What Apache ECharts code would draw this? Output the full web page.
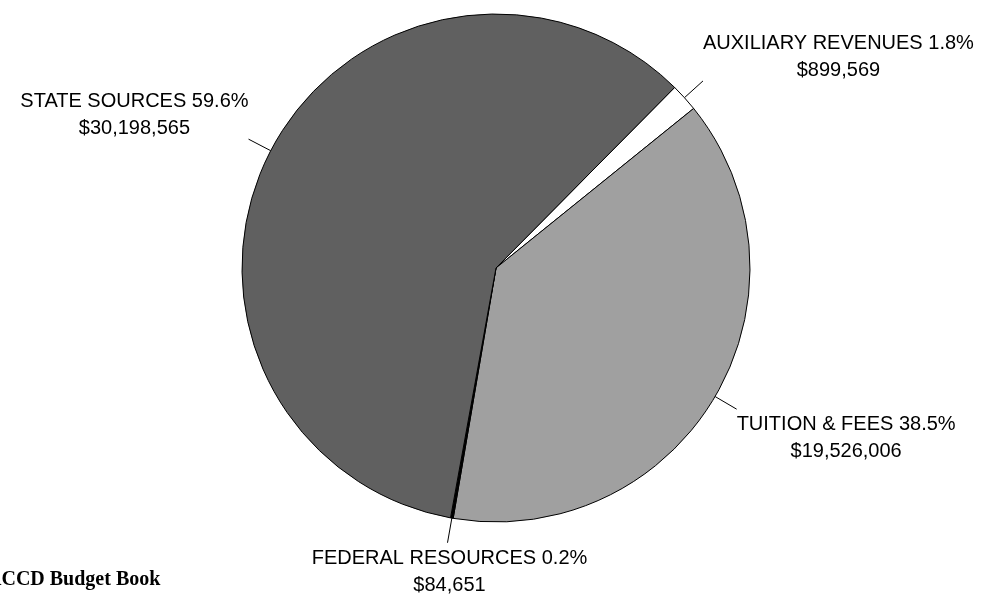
<!DOCTYPE html>
<html>
<head>
<meta charset="utf-8">
<script src="https://cdn.jsdelivr.net/npm/echarts@6/dist/echarts.min.js"></script>
<style>
html,body{margin:0;padding:0;background:#fff;}
#chart{width:985px;height:594px;}
</style>
</head>
<body>
<div id="chart"></div>
<script>
var categories = ['AUXILIARY REVENUES', 'TUITION & FEES', 'FEDERAL RESOURCES', 'STATE SOURCES'];
var values = [899569, 19526006, 84651, 30198565];
var colors = ['#ffffff', '#a0a0a0', '#000000', '#606060'];
var footerText = 'ACCD Budget Book';

var total = values.reduce(function (s, v) { return s + v; }, 0);
function money(v) { return '$' + String(v).replace(/\B(?=(\d{3})+(?!\d))/g, ','); }

var chart = echarts.init(document.getElementById('chart'), null, { renderer: 'canvas' });
chart.setOption({
  animation: false,
  backgroundColor: '#ffffff',
  graphic: [{
    type: 'text',
    left: -13,
    top: 570,
    style: {
      text: footerText,
      font: 'bold 20px "Liberation Serif", "Times New Roman", serif',
      fill: '#000'
    }
  }],
  series: [{
    type: 'pie',
    center: [496, 268],
    radius: [0, 254],
    startAngle: 45.3,
    clockwise: true,
    avoidLabelOverlap: false,
    silent: true,
    emphasis: { disabled: true },
    itemStyle: { borderColor: '#000', borderWidth: 1 },
    label: {
      show: true,
      position: 'outside',
      color: '#000',
      fontFamily: '"Liberation Sans", Arial, sans-serif',
      fontSize: 20,
      lineHeight: 27,
      align: 'center',
      formatter: function (p) {
        return p.name + ' ' + (p.value / total * 100).toFixed(1) + '%\n' + money(p.value);
      }
    },
    labelLine: {
      show: true,
      length: 25,
      length2: 0,
      smooth: false,
      lineStyle: { color: '#000', width: 1 }
    },
    labelLayout: function (p) {
      var pts = p.labelLinePoints;
      if (!pts) return {};
      var a = pts[0], b = pts[1];
      var w = p.labelRect.width, h = p.labelRect.height;
      var dx = b[0] - a[0], dy = b[1] - a[1];
      var cx, cy;
      if (Math.abs(dx) < Math.abs(dy) * 0.3) cx = b[0] + 2;
      else if (dx > 0) cx = b[0] + w / 2;
      else cx = b[0] - w / 2;
      if (dy < 0) cy = b[1] - h / 2 + 3; else cy = b[1] + h / 2 + 2;
      return { x: cx, y: cy, align: 'center', verticalAlign: 'middle', labelLinePoints: [a, b] };
    },
    data: categories.map(function (c, i) {
      return { name: c, value: values[i], itemStyle: { color: colors[i] } };
    })
  }]
});
</script>
</body>
</html>
